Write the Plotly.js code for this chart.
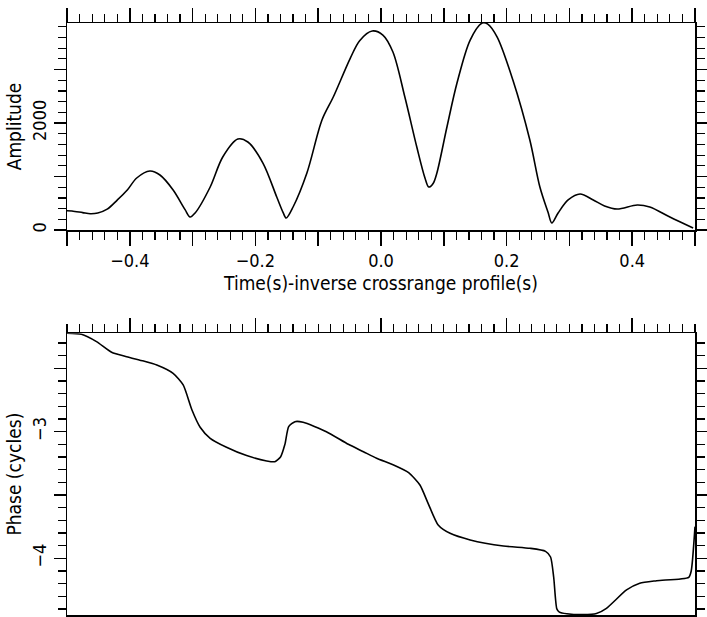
<!DOCTYPE html>
<html>
<head>
<meta charset="utf-8">
<script src="https://cdn.plot.ly/plotly-3.0.1.min.js"></script>
<style>html,body{margin:0;padding:0;background:#fff;}#chart{width:707px;height:617px;}</style>
</head>
<body>
<div id="chart"></div>
<script>
// Amplitude vs time (top panel)
const ampTime = [-0.500,-0.492,-0.475,-0.463,-0.451,-0.436,-0.420,-0.404,-0.389,-0.368,-0.352,-0.331,-0.312,-0.304,-0.296,-0.272,-0.252,-0.228,-0.212,-0.188,-0.166,-0.156,-0.151,-0.140,-0.118,-0.094,-0.076,-0.049,-0.034,-0.014,0.003,0.019,0.038,0.057,0.070,0.076,0.083,0.089,0.105,0.121,0.142,0.161,0.170,0.185,0.210,0.237,0.253,0.266,0.272,0.282,0.298,0.317,0.338,0.356,0.376,0.408,0.428,0.460,0.497];
const amplitude = [360,355,325,305,318,390,560,748,972,1103,1028,748,380,243,318,804,1364,1700,1645,1252,617,330,224,430,1065,2056,2486,3210,3540,3720,3645,3327,2486,1551,972,804,870,1065,1925,2747,3551,3869,3850,3607,2803,1682,804,330,131,318,561,673,561,450,392,467,430,243,37];

// Phase vs time (bottom panel)
const phaseTime = [-0.500,-0.477,-0.453,-0.429,-0.405,-0.378,-0.357,-0.331,-0.315,-0.301,-0.288,-0.272,-0.246,-0.214,-0.182,-0.169,-0.160,-0.153,-0.147,-0.137,-0.124,-0.087,-0.052,-0.028,-0.007,0.020,0.044,0.062,0.075,0.091,0.110,0.142,0.195,0.237,0.262,0.270,0.275,0.280,0.284,0.296,0.322,0.343,0.359,0.391,0.412,0.439,0.490,0.494,0.500];
const phase = [-2.223,-2.231,-2.289,-2.373,-2.408,-2.442,-2.473,-2.539,-2.631,-2.829,-2.965,-3.052,-3.123,-3.189,-3.231,-3.237,-3.200,-3.100,-2.960,-2.921,-2.926,-3.000,-3.100,-3.158,-3.210,-3.263,-3.323,-3.421,-3.566,-3.737,-3.803,-3.855,-3.903,-3.921,-3.945,-3.990,-4.150,-4.400,-4.425,-4.438,-4.445,-4.436,-4.395,-4.250,-4.197,-4.177,-4.150,-4.100,-3.750];

// Tick labels
const xTickVals = [-0.5,-0.4,-0.3,-0.2,-0.1,0.0,0.1,0.2,0.3,0.4,0.5];
const xTickText = ['','\u22120.4','','\u22120.2','','0.0','','0.2','','0.4',''];
const ampTickVals = [0,1000,2000,3000];
const ampTickText = ['0','','2000',''];
const phaseTickVals = [-4.5,-4,-3.5,-3,-2.5];
const phaseTickText = ['','\u22124','','\u22123',''];

const FONT = 'DejaVu Sans Condensed, Liberation Sans Narrow, sans-serif';
const H = 617;

const traces = [
  {x: ampTime, y: amplitude, xaxis:'x', yaxis:'y', mode:'lines', line:{color:'#000', width:1.6, shape:'spline', smoothing:0.9}, hoverinfo:'skip'},
  {x: phaseTime, y: phase, xaxis:'x2', yaxis:'y2', mode:'lines', line:{color:'#000', width:1.6, shape:'spline', smoothing:0.6}, hoverinfo:'skip'}
];

function xAxis(showLabels, anchor) {
  return {
    anchor: anchor, domain:[0,1], range:[-0.5,0.5],
    tickmode:'array', tickvals:xTickVals, ticktext:xTickText,
    showticklabels: showLabels,
    ticks:'outside', ticklen:14, tickwidth:1.5, tickcolor:'#000',
    minor:{dtick:0.02, tick0:0, ticks:'outside', ticklen:8, tickwidth:1.2, tickcolor:'#000', showgrid:false},
    showline:true, linecolor:'#000', linewidth:1.5, mirror:'ticks',
    showgrid:false, zeroline:false,
    tickfont:{family:FONT, size:18, color:'#000'}
  };
}

const layout = {
  width:707, height:617,
  margin:{l:67, r:12, t:0, b:0},
  paper_bgcolor:'#fff', plot_bgcolor:'#fff',
  showlegend:false,
  font:{family:FONT, color:'#000', size:18},
  xaxis: Object.assign(xAxis(true,'y'), {
    title:{text:'Time(s)-inverse crossrange profile(s)', font:{family:FONT, size:19, color:'#000'}, standoff:6}
  }),
  xaxis2: xAxis(false,'y2'),
  yaxis: {
    anchor:'x', domain:[(H-230)/H, (H-23)/H], range:[0,3870],
    tickmode:'array', tickvals:ampTickVals, ticktext:ampTickText, tickangle:-90,
    ticks:'outside', ticklen:12, tickwidth:1.5, tickcolor:'#000',
    minor:{dtick:200, tick0:0, ticks:'outside', ticklen:8, tickwidth:1.2, tickcolor:'#000', showgrid:false},
    showline:true, linecolor:'#000', linewidth:1.5, mirror:'ticks',
    showgrid:false, zeroline:false,
    tickfont:{family:FONT, size:18, color:'#000'},
    title:{text:'Amplitude', font:{family:FONT, size:19, color:'#000'}, standoff:2}
  },
  yaxis2: {
    anchor:'x2', domain:[(H-615)/H, (H-333.3)/H], range:[-4.448,-2.223],
    tickmode:'array', tickvals:phaseTickVals, ticktext:phaseTickText, tickangle:-90,
    ticks:'outside', ticklen:12, tickwidth:1.5, tickcolor:'#000',
    minor:{dtick:0.1, tick0:0, ticks:'outside', ticklen:8, tickwidth:1.2, tickcolor:'#000', showgrid:false},
    showline:true, linecolor:'#000', linewidth:1.5, mirror:'ticks',
    showgrid:false, zeroline:false,
    tickfont:{family:FONT, size:18, color:'#000'},
    title:{text:'Phase (cycles)', font:{family:FONT, size:19, color:'#000'}, standoff:2}
  }
};

Plotly.newPlot('chart', traces, layout, {displayModeBar:false, staticPlot:true});
</script>
</body>
</html>
